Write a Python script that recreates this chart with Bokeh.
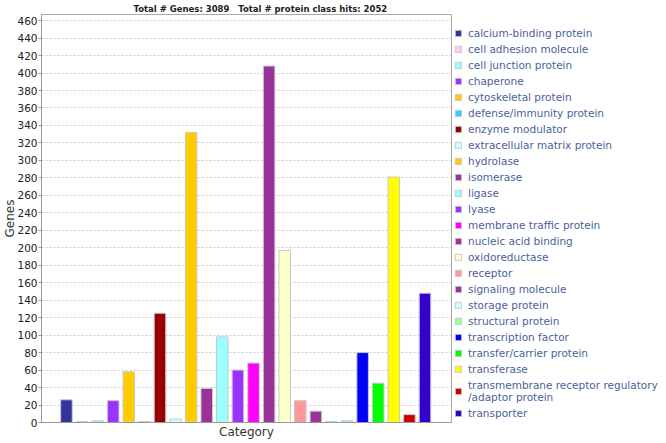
from bokeh.plotting import figure
from bokeh.models import (Range1d, FixedTicker, Legend, LegendItem, ColumnDataSource)
from bokeh.embed import file_html
from bokeh.resources import INLINE

categories = [
    "calcium-binding protein", "cell adhesion molecule", "cell junction protein",
    "chaperone", "cytoskeletal protein", "defense/immunity protein",
    "enzyme modulator", "extracellular matrix protein", "hydrolase",
    "isomerase", "ligase", "lyase", "membrane traffic protein",
    "nucleic acid binding", "oxidoreductase", "receptor", "signaling molecule",
    "storage protein", "structural protein", "transcription factor",
    "transfer/carrier protein", "transferase",
    "transmembrane receptor regulatory\n/adaptor protein", "transporter",
]
genes = [26, 1, 2, 25, 58, 1, 125, 4, 332, 39, 98, 60, 68, 408, 197, 25, 13,
         1, 2, 80, 45, 281, 9, 148]
colors = [
    "#333399", "#FFCCFF", "#99FFFF", "#9933FF", "#FFCC00", "#33CCFF",
    "#990000", "#CCFFFF", "#FFCC00", "#993399", "#99FFFF", "#9933FF",
    "#FF00FF", "#993399", "#FFFFCC", "#FF9999", "#993399", "#CCFFFF",
    "#99FF99", "#0000FF", "#00FF00", "#FFFF00", "#CC0000", "#3300CC",
]
y_ticks = list(range(0, 461, 20))
title_text = "Total # Genes: 3089\u00a0\u00a0\u00a0Total # protein class hits: 2052"

src = ColumnDataSource(dict(x=list(range(len(categories))), top=genes,
                            color=colors, label=categories))

p = figure(frame_width=410, frame_height=408, output_backend="svg",
           toolbar_location=None,
           x_range=Range1d(-1.6, 24.7), y_range=Range1d(0, 467),
           min_border_left=0, min_border_top=0, min_border_bottom=0,
           min_border_right=0)

r = p.vbar(x="x", top="top", width=0.74, fill_color="color",
           line_color="#c8c8c8", line_width=1, source=src)

p.title.text = title_text
p.title.align = "left"
p.title.text_font = "DejaVu Sans"
p.title.text_font_size = "8.5px"
p.title.text_font_style = "bold"
p.title.text_color = "#222222"
p.title.offset = 92
p.title.standoff = 2

p.outline_line_color = "#aaaaaa"
p.background_fill_color = "white"

yax = p.yaxis[0]
yax.ticker = FixedTicker(ticks=y_ticks)
yax.axis_label = "Genes"
yax.axis_label_text_font = "DejaVu Sans"
yax.axis_label_text_font_size = "12px"
yax.axis_label_text_font_style = "normal"
yax.axis_label_text_color = "#333333"
yax.axis_label_standoff = -3
yax.major_label_text_font = "DejaVu Sans"
yax.major_label_text_font_size = "10.5px"
yax.major_label_text_color = "#222222"
yax.major_label_standoff = 1
yax.major_tick_out = 3
yax.major_tick_in = 0
yax.minor_tick_out = 0
yax.minor_tick_in = 0
yax.axis_line_color = "#999999"
yax.major_tick_line_color = "#999999"

xax = p.xaxis[0]
xax.ticker = FixedTicker(ticks=[])
xax.axis_label = "Category"
xax.axis_label_text_font = "DejaVu Sans"
xax.axis_label_text_font_size = "12px"
xax.axis_label_text_font_style = "normal"
xax.axis_label_text_color = "#333333"
xax.axis_label_standoff = 2
xax.major_tick_line_color = None
xax.minor_tick_line_color = None
xax.axis_line_color = "#999999"
xax.major_label_standoff = 0

p.xgrid.grid_line_color = None
p.ygrid.grid_line_color = "#cccccc"
p.ygrid.grid_line_dash = "2 2"
p.ygrid.ticker = FixedTicker(ticks=y_ticks)

items = [LegendItem(label=c, renderers=[r], index=i) for i, c in enumerate(categories)]
legend = Legend(items=items, location="bottom_left")
legend.label_text_font = "DejaVu Sans"
legend.label_text_font_size = "10.5px"
legend.label_text_color = "#4a5f99"
legend.glyph_width = 8
legend.glyph_height = 8
legend.label_height = 12
legend.spacing = 4
legend.label_standoff = 6
legend.padding = 4
legend.margin = 3
legend.border_line_color = None
legend.background_fill_alpha = 0
p.add_layout(legend, "right")

open("out.html", "w").write(file_html(p, INLINE))
